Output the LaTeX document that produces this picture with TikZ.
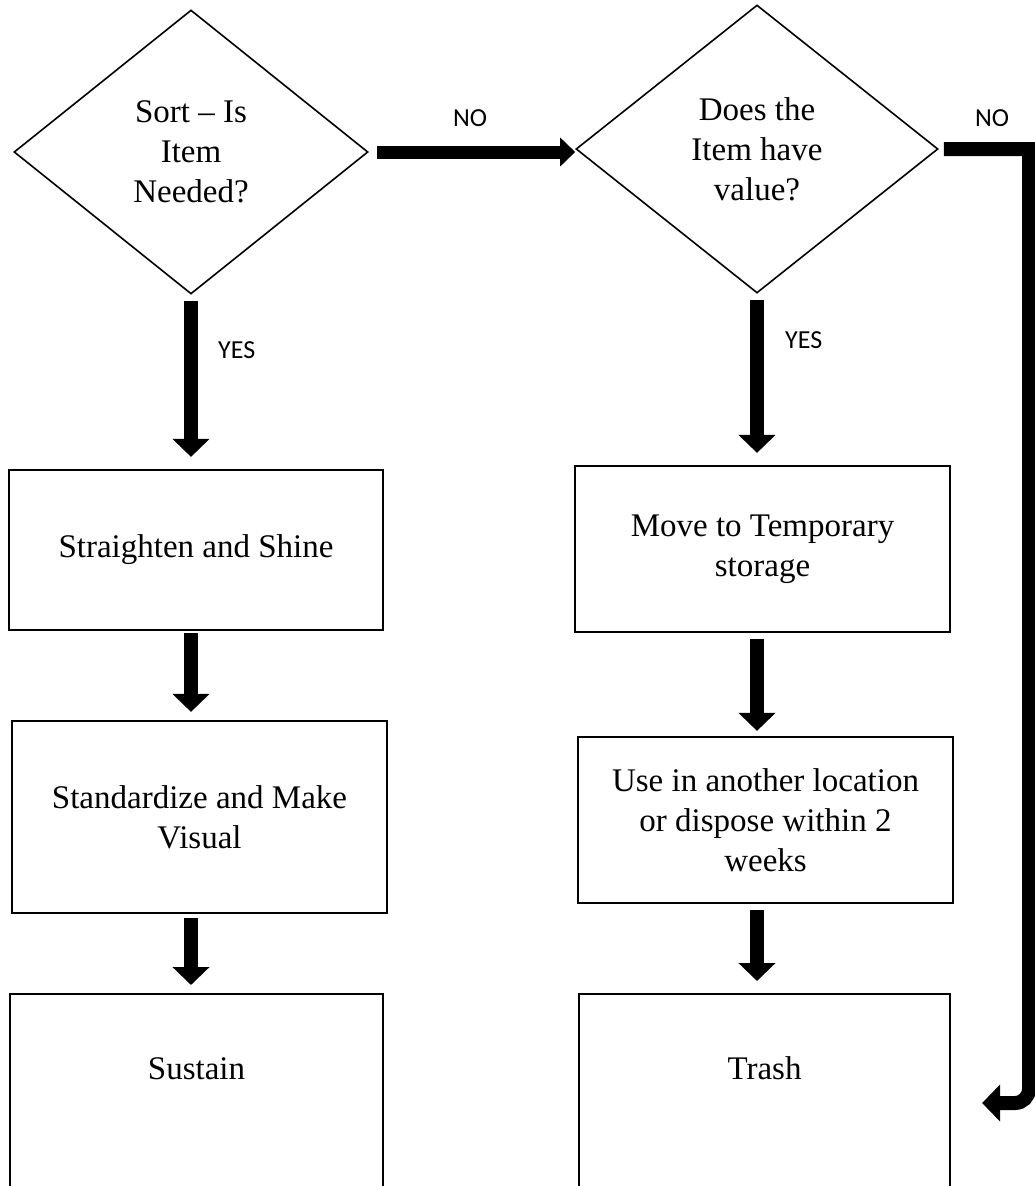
\documentclass[tikz,border=0pt]{standalone}
\usepackage{fontspec}
\setmainfont{Liberation Serif}
\newfontfamily\labfont{Carlito}
\usetikzlibrary{shapes.geometric,arrows.meta}
\tikzset{
  dec/.style={diamond, draw, line width=1.6pt, inner sep=0pt, align=center,
    font=\fontsize{33}{40}\selectfont},
  stepbox/.style={rectangle, draw, line width=2.2pt, inner sep=0pt, align=center,
    font=\fontsize{33}{40}\selectfont},
  flow/.style={line width=14pt, -{Triangle[width=36pt,length=18pt]}},
  lab/.style={font=\labfont\fontsize{26}{30}\selectfont, inner sep=0pt}
}
\begin{document}
\begin{tikzpicture}[x=1pt,y=-1pt]
\clip (0,0) rectangle (1035,1186);
\fill[white] (0,0) rectangle (1035,1186);
% decisions
\node[dec, minimum width=354pt, minimum height=284pt] (d1) at (191,152) {Sort -- Is\\Item\\Needed?};
\node[dec, minimum width=362pt, minimum height=288pt] (d2) at (757,149) {Does the\\Item have\\value?};
% left column
\node[stepbox, minimum width=374pt, minimum height=160pt] (b1) at (196,550) {Straighten and Shine};
\node[stepbox, minimum width=375pt, minimum height=192pt] (b2) at (199.5,817) {Standardize and Make\\Visual};
\node[stepbox, minimum width=373pt, anchor=north, text height=85pt, text depth=160pt] (b3) at (196.5,993) {Sustain};
% right column
\node[stepbox, minimum width=375pt, minimum height=166pt] (b4) at (762.5,549) {Move to Temporary\\storage};
\node[stepbox, minimum width=375pt, minimum height=166pt] (b5) at (765.5,820) {Use in another location\\or dispose within 2\\weeks};
\node[stepbox, minimum width=371pt, anchor=north, text height=85pt, text depth=160pt] (b6) at (764.5,993) {Trash};
% connectors
\draw[flow, shorten <=6pt, shorten >=12pt] (d1.south) -- (d1.south |- b1.north);
\draw[flow, shorten <=2pt, shorten >=8pt] (b1.south -| d1.south) -- (d1.south |- b2.north);
\draw[flow, shorten <=4pt, shorten >=8pt] (b2.south -| d1.south) -- (d1.south |- b3.north);
\draw[flow, shorten <=6pt, shorten >=12pt] (d2.south) -- (d2.south |- b4.north);
\draw[flow, shorten <=6pt, shorten >=5pt] (b4.south -| d2.south) -- (d2.south |- b5.north);
\draw[flow, shorten <=6pt, shorten >=12pt] (b5.south -| d2.south) -- (d2.south |- b6.north);
\draw[flow, -{Triangle[width=28pt,length=15pt]}, line width=13pt, shorten <=8pt] (d1.east) -- (d1.east -| d2.west);
\coordinate (c1) at (1029,149);
\coordinate (c2) at (1029,1103);
\draw[flow, line join=miter, shorten <=5pt, shorten >=31pt] (d2.east) -- (c1) [rounded corners=14pt] -- (c2) -- (b6.east |- c2);
% labels
\node[lab] (no1) at (470,118) {NO};
\node[lab] (no2) at (992,118) {NO};
\node[lab, anchor=west] (yes1) at (218,350) {YES};
\node[lab, anchor=west] (yes2) at (785,340) {YES};
\end{tikzpicture}
\end{document}
